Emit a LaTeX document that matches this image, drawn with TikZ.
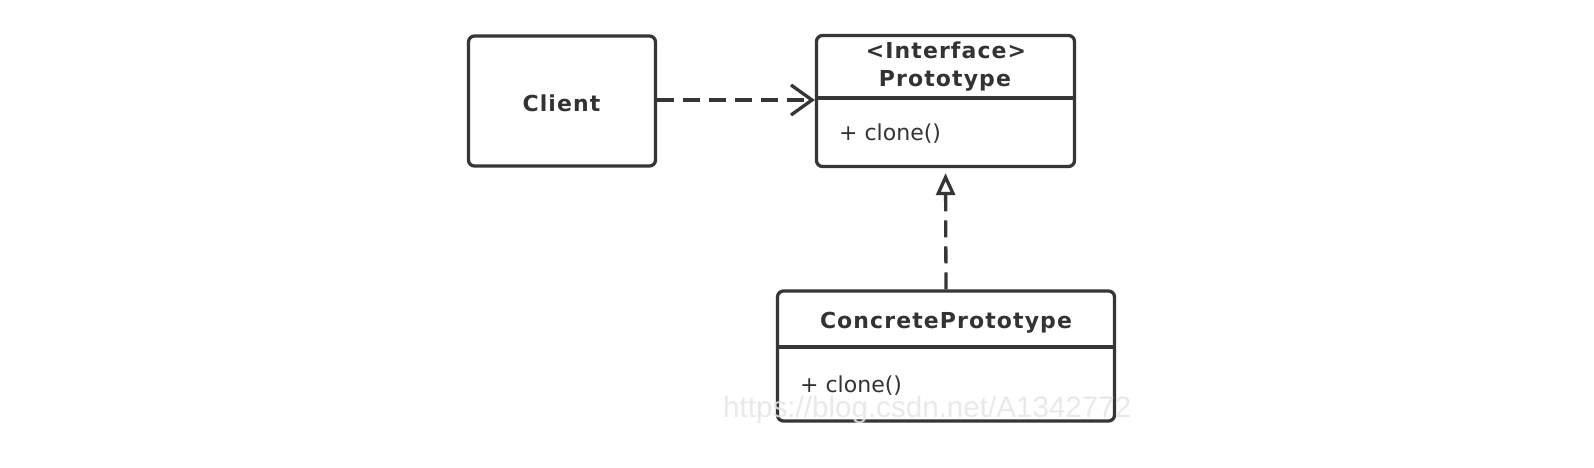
\documentclass[tikz,border=0pt]{standalone}
\usepackage{fontspec}
\setmainfont{DejaVu Sans}
\newfontfamily\titlefont[LetterSpace=5]{DejaVu Sans}
\newfontfamily\memberfont{DejaVu Sans}
\newfontfamily\wmfont{Liberation Sans}
\usetikzlibrary{arrows.meta}
\definecolor{lc}{HTML}{363636}
\definecolor{tc}{HTML}{333333}
\definecolor{wm}{HTML}{E6E6E6}
\begin{document}
\begin{tikzpicture}[x=1pt,y=-1pt]
\tikzset{
  box/.style={draw=lc, line width=3.3pt, rounded corners=6pt, inner sep=0pt, fill=white},
  divline/.style={draw=lc, line width=3.3pt},
  title/.style={text=tc, inner sep=0pt, font={\titlefont\bfseries\fontsize{22pt}{27.6pt}\selectfont}},
  member/.style={text=tc, inner sep=0pt, font={\memberfont\fontsize{22pt}{26pt}\selectfont}},
  conn/.style={draw=lc, line width=3.3pt, dash pattern=on 17pt off 9pt},
  watermark/.style={text=wm, opacity=0.85, inner sep=0pt, font={\wmfont\fontsize{29.6pt}{32pt}\selectfont}}
}
\useasboundingbox (0,0) rectangle (1594,468);
\fill[white] (0,0) rectangle (1594,468);

% boxes
\node[box, minimum width=187pt, minimum height=130pt] (client) at (562,101) {};
\node[box, minimum width=258pt, minimum height=131pt] (proto) at (945.5,101) {};
\node[box, minimum width=337pt, minimum height=130pt] (concrete) at (946,356) {};

% dividers
\draw[divline] (proto.west |- 0,98) -- (proto.east |- 0,98);
\draw[divline] (concrete.west |- 0,347) -- (concrete.east |- 0,347);

% texts
\node[title, anchor=base] (clientname) at (561.5,111) {Client};
\node[title, anchor=base] (stereo) at (946,58.7) {<Interface>};
\node[title, anchor=base] (protoname) at (945,86.3) {Prototype};
\node[member, anchor=base west] (protoop) at (839,140) {+ clone()};
\node[title, anchor=base] (concretename) at (946,328) {ConcretePrototype};
\node[member, anchor=base west] (concreteop) at (800,392) {+ clone()};

% connectors
\draw[conn, -{Straight Barb[length=21pt,width=30pt]}] (client.east |- 0,100) -- (proto.west |- 0,100);
\draw[conn, shorten >=5pt, -{Triangle[length=22pt,width=19pt,fill=white]}] (concrete.north) -- (proto.south);

% watermark
\node[watermark, anchor=base west] (wmark) at (723,417) {https://blog.csdn.net/A1342772};
\end{tikzpicture}
\end{document}
